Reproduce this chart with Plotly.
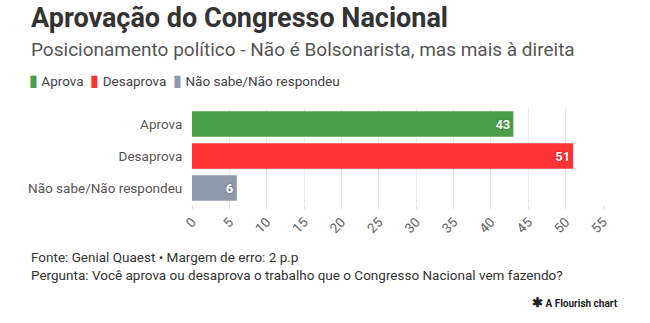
import plotly.graph_objects as go

# Survey answers and their shares (%)
categories = ["Aprova", "Desaprova", "Não sabe/Não respondeu"]
values = [43, 51, 6]
colors = ["#4a9e4a", "#ff3333", "#8e9aa8"]
shadow_colors = ["#2e7a2e", "#c40000", "#5d6876"]
x_ticks = [0, 5, 10, 15, 20, 25, 30, 35, 40, 45, 50, 55]

W, H = 650, 323
L, R, T, B = 192, 47, 108, 119
FONT = "Roboto"


def px(x):
    return (x - L) / (W - L - R)


def py(y):
    return (H - B - y) / (H - T - B)


fig = go.Figure()
for cat, val, col, sh in zip(categories, values, colors, shadow_colors):
    fig.add_trace(go.Bar(
        x=[val], y=[cat], orientation="h", name=cat,
        marker=dict(color=col, line=dict(width=0)),
        text=[str(val)], textposition="inside", insidetextanchor="end",
        textfont=dict(color="white", size=13, family=FONT, weight="bold",
                      shadow=f"0px 0px 2px {sh}"),
        showlegend=False, cliponaxis=False,
    ))

legend_html = "  ".join(
    f"<span style='color:{c};font-size:16px'>▮</span> <span style='color:#444'>{n}</span>"
    for n, c in zip(categories, colors)
)

annotations = [
    dict(text="<b>Aprovação do Congresso Nacional</b>", x=px(29), y=py(18),
         font=dict(size=27, color="#333333", family=FONT)),
    dict(text="Posicionamento político - Não é Bolsonarista, mas mais à direita",
         x=px(29), y=py(50), font=dict(size=19, color="#555555", family=FONT)),
    dict(text=legend_html, x=px(27), y=py(80),
         font=dict(size=13.5, color="#444444", family=FONT)),
    dict(text="Fonte: Genial Quaest • Margem de erro: 2 p.p", x=px(29), y=py(257),
         font=dict(size=13.5, color="#333333", family=FONT)),
    dict(text="Pergunta: Você aprova ou desaprova o trabalho que o Congresso Nacional vem fazendo?",
         x=px(29), y=py(275), font=dict(size=13.5, color="#333333", family=FONT)),
    dict(text="<b><span style='font-size:13px'>✱</span> A Flourish chart</b>", x=px(530), y=py(302),
         font=dict(size=10, color="#222222", family=FONT)),
]
for a in annotations:
    a.update(xref="paper", yref="paper", xanchor="left", yanchor="middle",
             showarrow=False, align="left")

fig.update_layout(
    width=W, height=H,
    margin=dict(l=L, r=R, t=T, b=B),
    paper_bgcolor="white", plot_bgcolor="white",
    barmode="overlay", bargap=0.2,
    font=dict(family=FONT, color="#555555"),
    annotations=annotations,
    xaxis=dict(range=[0, 55], tickvals=x_ticks, tickangle=-45,
               showgrid=True, gridcolor="#e8e8e8", gridwidth=1,
               zeroline=False, showline=False,
               ticks="outside", ticklen=4, tickcolor="#e0e0e0",
               tickfont=dict(size=13.5, color="#666666", family=FONT)),
    yaxis=dict(categoryorder="array", categoryarray=categories[::-1],
               showgrid=False, zeroline=False, showline=False,
               ticks="outside", ticklen=6, tickcolor="rgba(0,0,0,0)",
               tickfont=dict(size=13.5, color="#555555", family=FONT)),
)

fig.write_html("out.html")
